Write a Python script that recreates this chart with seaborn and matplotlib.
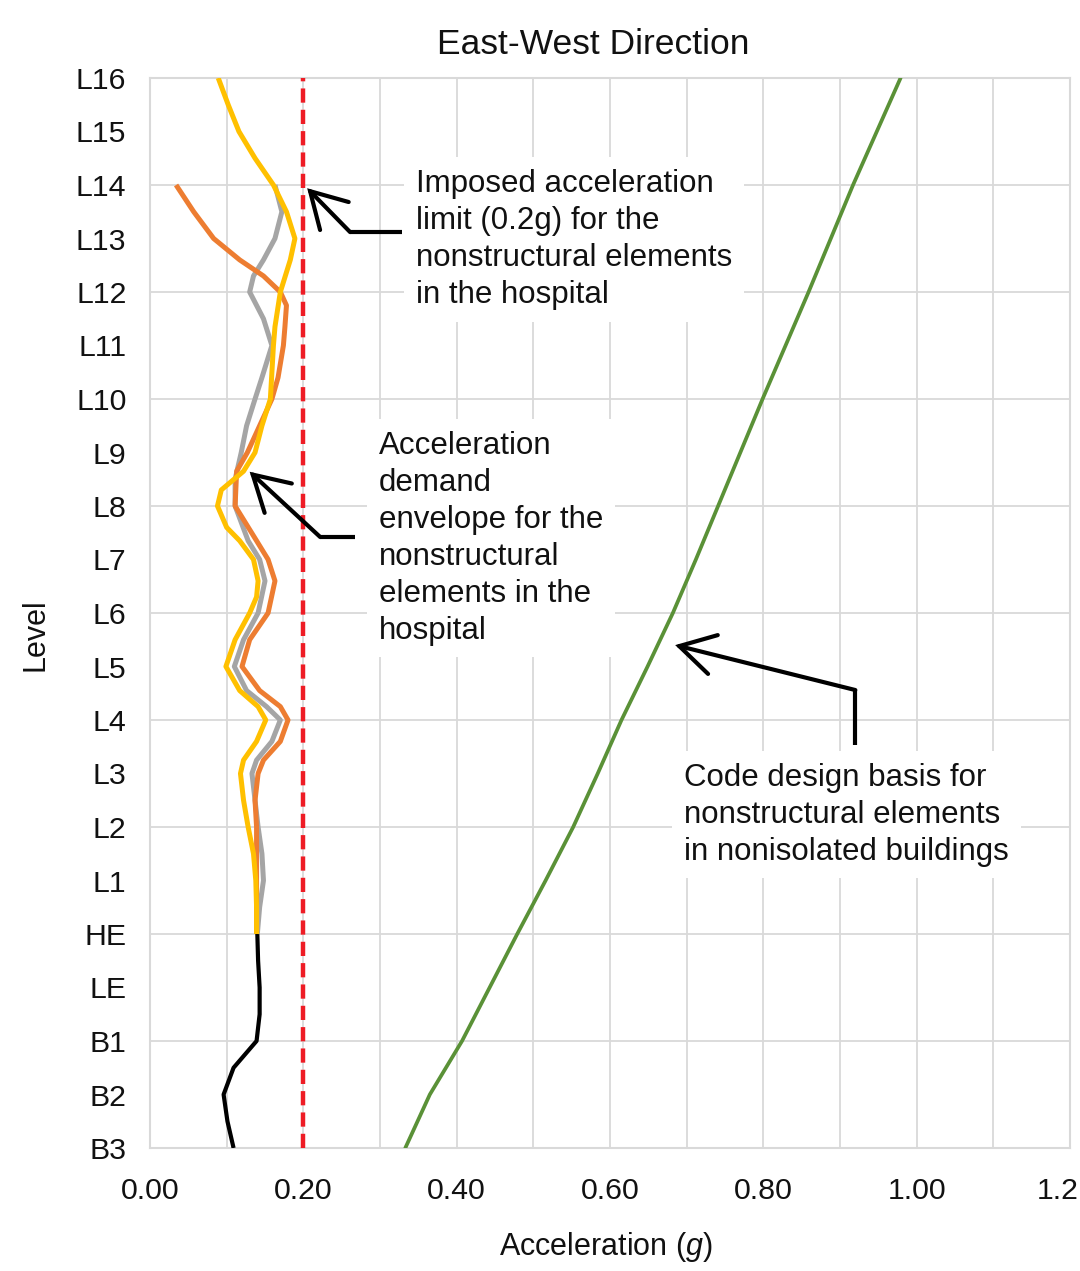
import numpy as np
import pandas as pd
import matplotlib.pyplot as plt
import seaborn as sns
from matplotlib.transforms import ScaledTranslation

# --- DATA (level position: 0 = B3 ... 20 = L16, acceleration in g) ---
LEVELS = ['B3', 'B2', 'B1', 'LE', 'HE', 'L1', 'L2', 'L3', 'L4', 'L5', 'L6',
          'L7', 'L8', 'L9', 'L10', 'L11', 'L12', 'L13', 'L14', 'L15', 'L16']
X_TICKS = [0.0, 0.2, 0.4, 0.6, 0.8, 1.0, 1.2]
X_TICK_LABELS = ['0.00', '0.20', '0.40', '0.60', '0.80', '1.00', '1.2']

LIMIT_G = 0.2

BLACK_POS = [0, 0.5, 1, 1.5, 2, 2.5, 3, 3.5, 4]
BLACK_G = [0.109, 0.101, 0.096, 0.109, 0.139, 0.143, 0.143, 0.141, 0.140]

GRAY_POS = [4, 4.5, 5, 5.5, 6, 6.5, 7, 7.25, 7.6, 8, 8.25, 8.55, 9, 9.5, 10, 10.6,
            11, 11.35, 12, 12.5, 13, 13.5, 14, 14.4, 15, 15.5, 16, 16.3, 16.6,
            17, 17.5, 18]
GRAY_G = [0.140, 0.143, 0.148, 0.146, 0.141, 0.137, 0.133, 0.139, 0.159, 0.170,
          0.152, 0.126, 0.110, 0.122, 0.141, 0.150, 0.143, 0.128, 0.111, 0.111,
          0.119, 0.126, 0.137, 0.146, 0.159, 0.148, 0.130, 0.135, 0.148, 0.163,
          0.172, 0.163]

ORANGE_POS = [4, 5, 6, 6.5, 7, 7.25, 7.6, 8, 8.25, 8.55, 9, 9.5, 10, 10.6, 11,
              11.35, 12, 12.65, 13, 13.5, 14, 14.4, 15, 15.35, 15.75, 16, 16.3,
              16.6, 17, 17.5, 18]
ORANGE_G = [0.139, 0.139, 0.139, 0.137, 0.141, 0.148, 0.170, 0.180, 0.170, 0.143,
            0.120, 0.130, 0.154, 0.163, 0.154, 0.139, 0.111, 0.113, 0.127, 0.143,
            0.159, 0.167, 0.174, 0.176, 0.178, 0.170, 0.148, 0.117, 0.083, 0.057,
            0.034]

YELLOW_POS = [4, 4.5, 5, 5.5, 6, 6.5, 7, 7.25, 7.6, 8, 8.25, 8.55, 9, 9.5, 10,
              10.3, 10.6, 11, 11.35, 11.6, 12, 12.3, 12.65, 13, 13.5, 14, 15,
              15.35, 16, 16.6, 17, 17.5, 18, 18.5, 19, 19.5, 20]
YELLOW_G = [0.139, 0.139, 0.138, 0.135, 0.128, 0.122, 0.118, 0.122, 0.139, 0.151,
            0.141, 0.117, 0.099, 0.111, 0.130, 0.139, 0.141, 0.135, 0.117, 0.100,
            0.088, 0.093, 0.122, 0.137, 0.146, 0.157, 0.161, 0.163, 0.170, 0.183,
            0.189, 0.178, 0.161, 0.137, 0.116, 0.102, 0.089]

CODE_G = [0.333, 0.365, 0.407, 0.443, 0.479, 0.516, 0.552, 0.584, 0.615, 0.649,
          0.682, 0.712, 0.741, 0.770, 0.799, 0.829, 0.859, 0.888, 0.917, 0.948,
          0.979]

# --- STYLE ---
sns.set_style('white')
plt.rcParams['font.family'] = ['Liberation Sans', 'DejaVu Sans']
plt.rcParams['mathtext.fontset'] = 'custom'
plt.rcParams['mathtext.rm'] = 'Liberation Sans'
plt.rcParams['mathtext.it'] = 'Liberation Sans:italic'

GRID_C = '#d9d9d9'
TXT_C = '#111111'

fig = plt.figure(figsize=(10.8, 12.71), dpi=100)
ax = fig.add_axes([150 / 1080, 123 / 1271, 920 / 1080, 1070 / 1271])

series = [
    (BLACK_POS, BLACK_G, 'black', 3.0),
    (GRAY_POS, GRAY_G, '#a5a5a5', 3.6),
    (ORANGE_POS, ORANGE_G, '#ed7d31', 3.6),
    (YELLOW_POS, YELLOW_G, '#ffc000', 3.6),
]
for pos, g, col, lw in series:
    df = pd.DataFrame({'Level': pos, 'Acc': g})
    sns.lineplot(data=df, x='Acc', y='Level', orient='y', sort=False, estimator=None,
                 color=col, linewidth=lw, ax=ax, zorder=5)
for ln in ax.lines:
    ln.set_solid_joinstyle('round')
    ln.set_solid_capstyle('butt')

code_df = pd.DataFrame({'Level': np.arange(len(LEVELS)), 'Acc': CODE_G})
sns.lineplot(data=code_df, x='Acc', y='Level', orient='y', sort=False, estimator=None,
             color='#5a9137', linewidth=2.7, ax=ax, zorder=5)

ax.axvline(LIMIT_G, color='#ee1c25', linewidth=3.2, dashes=(3.2, 1.6), zorder=6)

# axes, ticks, grid
ax.set_xlim(0, 1.2)
ax.set_ylim(0, len(LEVELS) - 1)
ax.set_xticks(X_TICKS, X_TICK_LABELS)
ax.set_xticks(np.arange(0.1, 1.2, 0.2), minor=True)
idx = np.arange(len(LEVELS))
ax.set_yticks(idx[::2], LEVELS[::2])
ax.set_yticks(idx[1::2], LEVELS[1::2], minor=True)
ax.tick_params(axis='both', which='both', length=0, labelsize=21.8, colors=TXT_C)
ax.tick_params(axis='y', which='both', pad=17)
ax.tick_params(axis='x', which='both', pad=21)
ax.grid(True, which='major', color=GRID_C, linewidth=1.3)
ax.grid(True, which='minor', axis='x', color=GRID_C, linewidth=1.3)
ax.set_axisbelow(True)
for sp in ax.spines.values():
    sp.set_color(GRID_C)
    sp.set_linewidth(1.5)

# last x label sits at the figure edge
last = ax.get_xticklabels()[-1]
last.set_ha('right')
last.set_transform(last.get_transform() + ScaledTranslation(0.09, 0, fig.dpi_scale_trans))

ax.set_title('East-West Direction', fontsize=25.5, x=0.4815, y=1.0224, pad=0, color=TXT_C)
ax.set_xlabel('Acceleration ($\\mathit{g}$)', fontsize=22, color=TXT_C)
ax.set_ylabel('Level', fontsize=22, color=TXT_C)
ax.xaxis.set_label_coords(0.496, -0.0766)
ax.yaxis.set_label_coords(-0.108, 0.48)

# annotations
box = dict(boxstyle='square,pad=0.38', facecolor='white', edgecolor='none')
note_kw = dict(fontsize=22.5, ha='left', va='top', bbox=box, zorder=3, color=TXT_C,
               linespacing=1.3)
ax.text(0.347, 18.30, 'Imposed acceleration\nlimit (0.2g) for the\nnonstructural elements\nin the hospital',
        **note_kw)
ax.text(0.299, 13.40, 'Acceleration\ndemand\nenvelope for the\nnonstructural\nelements in the\nhospital',
        **note_kw)
ax.text(0.6965, 7.20, 'Code design basis for\nnonstructural elements\nin nonisolated buildings',
        **note_kw)

arrows = [
    # (end, elbow, tip)
    ((0.329, 17.12), (0.261, 17.12), (0.205, 17.94)),
    ((0.267, 11.42), (0.222, 11.42), (0.130, 12.64)),
    ((0.920, 7.53), (0.920, 8.56), (0.685, 9.40)),
]
for end, elbow, tip in arrows:
    ax.plot([end[0], elbow[0]], [end[1], elbow[1]], color='black', linewidth=3.0,
            solid_capstyle='butt', zorder=7)
    ax.annotate('', xy=tip, xytext=elbow,
                arrowprops=dict(arrowstyle='->,head_length=1.25,head_width=0.72',
                                mutation_scale=20, color='black', linewidth=3.0,
                                shrinkA=0, shrinkB=0, joinstyle='miter'),
                zorder=7)

plt.savefig('out.png', dpi=100)
